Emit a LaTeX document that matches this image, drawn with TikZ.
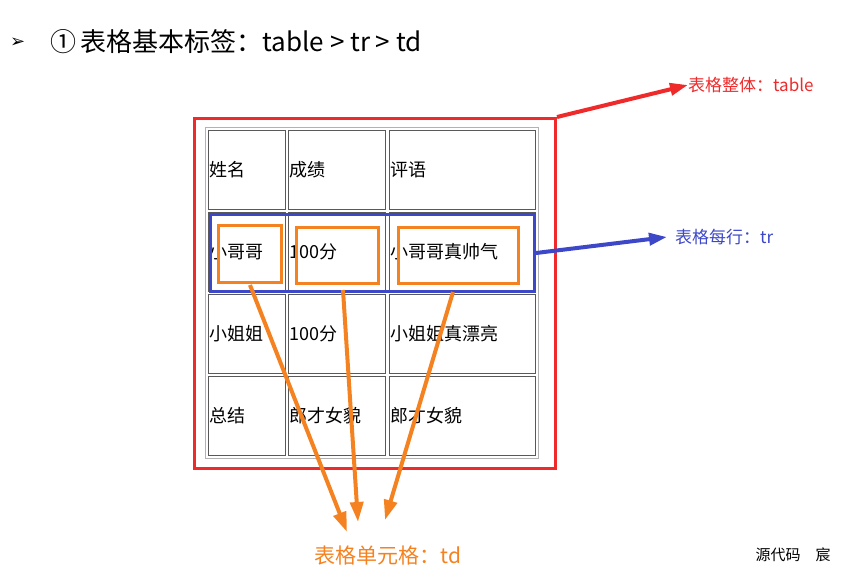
\documentclass[tikz,border=0pt]{standalone}
\usepackage{fontspec}
\setmainfont{Noto Sans CJK SC}
\newfontfamily\dejavu{DejaVu Sans}
\usetikzlibrary{arrows.meta}
\definecolor{tred}{HTML}{EE2A2A}
\definecolor{tblue}{HTML}{3D48C8}
\definecolor{torange}{HTML}{F58220}
\begin{document}
\begin{tikzpicture}[x=1pt,y=-1pt,
  cellbox/.style={draw=gray!70!black,line width=1pt,inner sep=0pt,anchor=north west},
  celltxt/.style={anchor=west,font=\fontsize{18}{18}\selectfont,inner sep=1pt},
  obox/.style={draw=torange,line width=3pt,inner sep=0pt,anchor=north west},
  oarr/.style={torange,line width=4pt,-{Triangle[length=20pt,width=13pt]}},
  lab/.style={anchor=west,font=\fontsize{17}{17}\selectfont,inner sep=0pt}]
\useasboundingbox (0,0) rectangle (841,571);
\node[anchor=west,inner sep=0pt,font=\dejavu\fontsize{18}{18}\selectfont] (bul) at (10,43) {➢};
\node[anchor=west,inner sep=0pt,font=\fontsize{26}{26}\selectfont] (title) at (50,42) {①\,表格基本标签：table > tr > td};
% table
\node[draw=gray!60,line width=1.3pt,minimum width=333pt,minimum height=331pt,anchor=north west,inner sep=0pt] (tbl) at (205,127) {};
\node[draw=tred,line width=3pt,minimum width=361pt,minimum height=350pt,anchor=north west,inner sep=0pt] (red) at (193,117) {};
\foreach \r/\y in {1/130,2/212,3/294,4/376}{
  \node[cellbox,minimum width=77pt,minimum height=79pt] (c\r a) at (208,\y) {};
  \node[cellbox,minimum width=97pt,minimum height=79pt] (c\r b) at (288,\y) {};
  \node[cellbox,minimum width=146pt,minimum height=79pt] (c\r c) at (389,\y) {};
}
\node[celltxt] (t1a) at (c1a.west) {姓名};
\node[celltxt] (t1b) at (c1b.west) {成绩};
\node[celltxt] (t1c) at (c1c.west) {评语};
\node[celltxt] (t2a) at (c2a.west) {小哥哥};
\node[celltxt] (t2b) at (c2b.west) {100分};
\node[celltxt] (t2c) at (c2c.west) {小哥哥真帅气};
\node[celltxt] (t3a) at (c3a.west) {小姐姐};
\node[celltxt] (t3b) at (c3b.west) {100分};
\node[celltxt] (t3c) at (c3c.west) {小姐姐真漂亮};
\node[celltxt] (t4a) at (c4a.west) {总结};
\node[celltxt] (t4b) at (c4b.west) {郎才女貌};
\node[celltxt] (t4c) at (c4c.west) {郎才女貌};
\node[draw=tblue,line width=3pt,minimum width=324pt,minimum height=77pt,anchor=north west,inner sep=0pt] (blue) at (209,213) {};
\node[obox,minimum width=63pt,minimum height=57pt] (o1) at (217,224) {};
\node[obox,minimum width=82pt,minimum height=56pt] (o2) at (295,226) {};
\node[obox,minimum width=120pt,minimum height=56pt] (o3) at (397,226) {};
% labels
\node[lab,text=tred] (lred) at (688,85) {表格整体：table};
\node[lab,text=tblue] (lblue) at (675,237) {表格每行：tr};
\node[anchor=center,inner sep=0pt,text=torange,font=\fontsize{21}{21}\selectfont] (lor) at (388,556) {表格单元格：td};
\node[anchor=center,inner sep=0pt,font=\fontsize{15}{15}\selectfont] (src) at (793,555) {源代码\quad 宸};
\coordinate (e1) at (347,532);
\coordinate (e2) at (358,522);
\coordinate (e3) at (385,520);
\draw[oarr] (250,285) -- (e1);
\draw[oarr] (343,290) -- (e2);
\draw[oarr] (453,292) -- (e3);
\draw[tred,line width=4pt,-{Triangle[length=18pt,width=12pt]}] (red.north east) -- (lred.west);
\draw[tblue,line width=4pt,-{Triangle[length=18pt,width=12pt]}] (blue.east) -- ([xshift=-8pt]lblue.west);
\end{tikzpicture}
\end{document}
